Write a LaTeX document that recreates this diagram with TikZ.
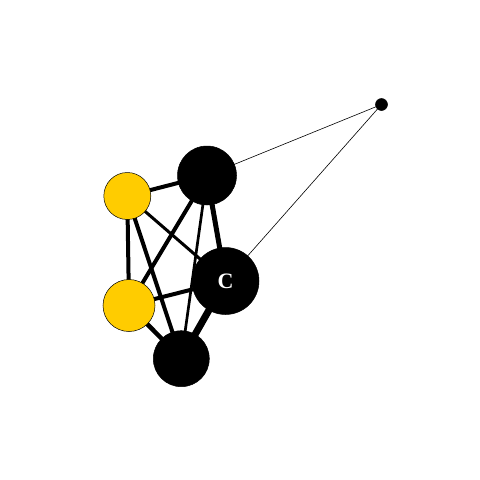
\documentclass[tikz,border=0pt]{standalone}
\usepackage{fontspec}
\setmainfont{Liberation Serif}
\usetikzlibrary{backgrounds}
\definecolor{gold}{RGB}{255,204,0}

\begin{document}
\begin{tikzpicture}[x=1pt,y=-1pt,
       every node/.style={draw,circle,inner sep=0pt,line width=0.5pt},
       blacknode/.style={fill=black},
       goldnode/.style={fill=gold},
       tie/.style={line width=#1}]
    \useasboundingbox (0,0) rectangle (480,480);
    \node[blacknode,minimum size=12pt] (s) at (381.5,104.5) {};
    \node[blacknode,minimum size=59pt] (t) at (207,175.5) {};
    \node[goldnode,minimum size=47pt] (ya) at (127.3,196) {};
    \node[goldnode,minimum size=52pt] (yb) at (129,305.5) {};
    \node[blacknode,minimum size=67pt,text=white,font=\bfseries\fontsize{22}{22}\selectfont] (c) at (225.5,281) {C};
    \node[blacknode,minimum size=56pt] (b) at (181.3,358.7) {};
    \begin{scope}[on background layer]
      \draw[tie=0.6pt] (s.center) -- (t.center);
      \draw[tie=0.6pt] (s.center) -- (c.center);
      \draw[tie=4pt] (ya.center) -- (t.center);
      \draw[tie=4pt] (ya.center) -- (yb.center);
      \draw[tie=3pt] (ya.center) -- (c.center);
      \draw[tie=4pt] (ya.center) -- (b.center);
      \draw[tie=4pt] (t.center) -- (yb.center);
      \draw[tie=5pt] (t.center) -- (c.center);
      \draw[tie=2.7pt] (t.center) -- (b.center);
      \draw[tie=4pt] (yb.center) -- (c.center);
      \draw[tie=4.5pt] (yb.center) -- (b.center);
      \draw[tie=7pt] (c.center) -- (b.center);
    \end{scope}
\end{tikzpicture}
\end{document}
